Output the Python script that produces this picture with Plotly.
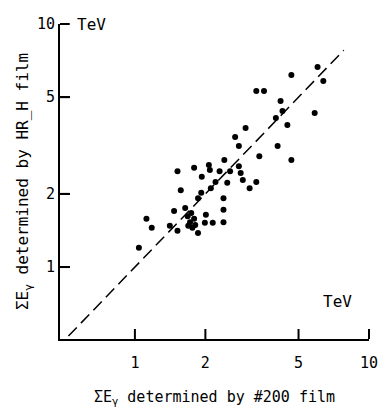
import math
import plotly.graph_objects as go

# Sum of gamma energies (TeV): #200 film (x) vs HR_H film (y)
x_200 = [1.04, 1.12, 1.18, 1.41, 1.47, 1.52, 1.64,
         1.68, 1.72, 1.76, 1.79, 1.69, 1.81, 1.74,
         1.86, 2.01, 1.99, 2.15, 2.39, 2.39, 1.86, 1.92, 1.57,
         1.52, 1.79, 1.93, 2.07, 2.09, 2.30, 2.41, 2.55, 2.48, 2.21, 2.11, 2.39,
         2.68, 2.78, 2.97, 2.78, 2.83, 2.89, 3.09, 3.30, 3.40,
         3.30, 3.56, 4.07, 4.00, 4.19, 4.27, 4.48, 4.66, 4.66,
         5.86, 6.03, 6.38]
y_hrh = [1.20, 1.58, 1.45, 1.48, 1.70, 1.41, 1.75,
         1.62, 1.53, 1.45, 1.58, 1.48, 1.49, 1.67,
         1.38, 1.64, 1.52, 1.52, 1.72, 1.53, 1.92, 2.02, 2.07,
         2.48, 2.56, 2.35, 2.63, 2.51, 2.48, 2.76, 2.48, 2.22, 2.24, 2.11, 1.92,
         3.43, 3.15, 3.73, 2.60, 2.44, 2.28, 2.11, 2.24, 2.86,
         5.30, 5.30, 3.15, 4.10, 4.82, 4.39, 3.84, 6.17, 2.76,
         4.30, 6.65, 5.83]

diag = [0.52, 7.8]
tick_vals = [1, 2, 5, 10]
tick_text = ["1", "2", "5", "10"]

FONT = "DejaVu Sans Mono"
X_RANGE = [-0.32, 1.0]
Y_RANGE = [-0.296, 1.0]
W, H = 388, 420
M = dict(l=60, r=10, t=24, b=81)
PLOT_W = W - M["l"] - M["r"]
PLOT_H = H - M["t"] - M["b"]
TICK_PX = 10

fig = go.Figure()
fig.add_trace(go.Scatter(
    x=diag, y=diag, mode="lines",
    line=dict(color="black", width=1.5, dash="12px,6px"),
    hoverinfo="skip", showlegend=False))
fig.add_trace(go.Scatter(
    x=x_200, y=y_hrh, mode="markers",
    marker=dict(color="black", size=6),
    showlegend=False))

axis_common = dict(
    type="log", showgrid=False, zeroline=False,
    showline=True, linecolor="black", linewidth=2,
    tickmode="array", tickvals=tick_vals, ticktext=tick_text,
    tickfont=dict(family=FONT, size=15, color="black"),
)

fig.update_xaxes(range=X_RANGE,
                 ticks="outside", ticklen=9, tickwidth=1,
                 tickcolor="rgba(0,0,0,0)",
                 title=dict(text="ΣE<sub>γ</sub> determined by #200 film",
                            font=dict(family=FONT, size=15, color="black"),
                            standoff=20),
                 **axis_common)
fig.update_yaxes(range=Y_RANGE,
                 ticks="inside", ticklen=TICK_PX, tickwidth=2, tickcolor="black",
                 title=dict(text="ΣE<sub>γ</sub> determined by HR_H film",
                            font=dict(family=FONT, size=16, color="black"),
                            standoff=4),
                 **axis_common)


def xfrac(v):
    return (math.log10(v) - X_RANGE[0]) / (X_RANGE[1] - X_RANGE[0])


def yfrac(v):
    return (math.log10(v) - Y_RANGE[0]) / (Y_RANGE[1] - Y_RANGE[0])


# inward tick marks on both axes
for v in tick_vals:
    fx = xfrac(v)
    fig.add_shape(type="line", xref="x domain", yref="y domain",
                  x0=fx, x1=fx, y0=0, y1=TICK_PX / PLOT_H,
                  line=dict(color="black", width=2))
    fy = yfrac(v)
    fig.add_shape(type="line", xref="x domain", yref="y domain",
                  x0=0, x1=TICK_PX / PLOT_W, y0=fy, y1=fy,
                  line=dict(color="black", width=2))

fig.add_annotation(x=0.05, y=1.0, xref="paper", yref="paper",
                   text="TeV", showarrow=False, xanchor="left", yanchor="middle",
                   font=dict(family=FONT, size=16, color="black"))
fig.add_annotation(x=0.95, y=0.12, xref="paper", yref="paper",
                   text="TeV", showarrow=False, xanchor="right", yanchor="middle",
                   font=dict(family=FONT, size=16, color="black"))

fig.update_layout(
    width=W, height=H,
    margin=M,
    paper_bgcolor="white", plot_bgcolor="white",
    font=dict(family=FONT, color="black"),
)

fig.write_html("out.html")
